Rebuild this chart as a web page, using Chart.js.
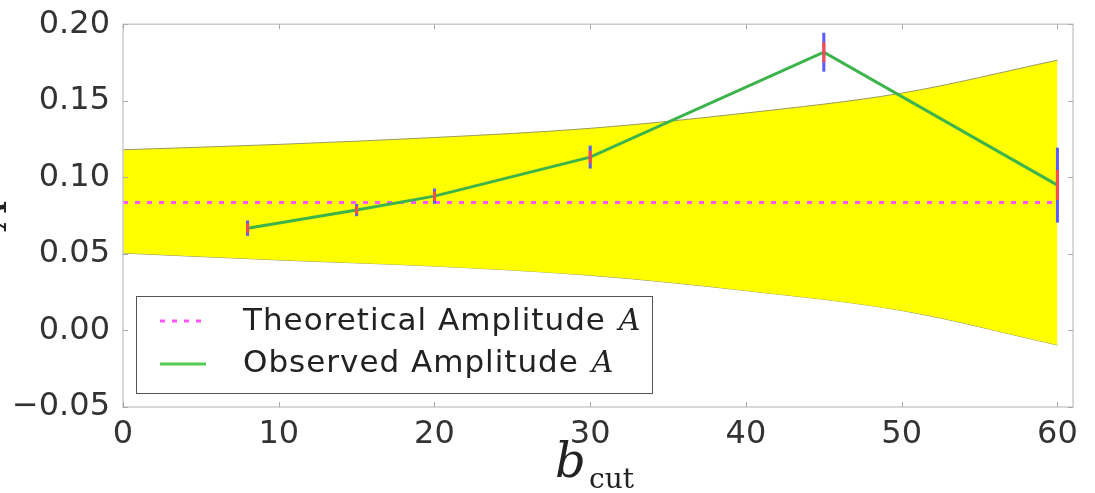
<!DOCTYPE html>
<html>
<head>
<meta charset="utf-8">
<script src="https://cdn.jsdelivr.net/npm/chart.js@4/dist/chart.umd.min.js"></script>
<style>
  html, body { margin: 0; padding: 0; background: #fff; overflow: hidden; }
  canvas { display: block; }
</style>
</head>
<body>
<canvas id="amp" width="1095" height="493" style="width:1095px;height:493px"></canvas>
<script>
// data
const bCut = [8, 15, 20, 30, 45, 60];
const observedA = [0.0668, 0.0786, 0.0877, 0.1132, 0.1817, 0.0949];
const errBlue = [0.005, 0.004, 0.005, 0.0075, 0.0127, 0.0245];
const errRed = [0.003, 0.0025, 0.003, 0.004, 0.0065, 0.0098];
const theoryX = [0, 60];
const theoryA = [0.0835, 0.0835];
const bandX = [0, 10, 20, 30, 40, 50, 60];
const bandUpper = [0.118, 0.1215, 0.126, 0.132, 0.142, 0.155, 0.1765];
const bandLower = [0.0505, 0.046, 0.042, 0.036, 0.026, 0.013, -0.0095];
const xTicks = [0, 10, 20, 30, 40, 50, 60];
const yTicks = [-0.05, 0, 0.05, 0.10, 0.15, 0.20];

const pts = (xs, ys) => xs.map((x, i) => ({ x: x, y: ys[i] }));
const tickFont = { family: "DejaVu Sans", size: 32 };

// frame, inward ticks, error bars, legend and axis titles
const extras = {
  id: "extras",
  afterDatasetsDraw(chart) {
    const c = chart.ctx, a = chart.chartArea;
    const xs = chart.scales.x, ys = chart.scales.y;
    c.save();
    // error bars
    const bar = (err, color) => {
      c.strokeStyle = color;
      c.lineWidth = 3;
      bCut.forEach((x, i) => {
        const px = xs.getPixelForValue(x);
        c.beginPath();
        c.moveTo(px, ys.getPixelForValue(observedA[i] - err[i]));
        c.lineTo(px, ys.getPixelForValue(observedA[i] + err[i]));
        c.stroke();
      });
    };
    bar(errBlue, "#5a5aff");
    bar(errRed, "#ff4a4a");
    // frame
    c.strokeStyle = "#c8cccc";
    c.lineWidth = 1.5;
    c.strokeRect(a.left, a.top, a.right - a.left, a.bottom - a.top);
    c.strokeStyle = "#aaaaaa";
    c.lineWidth = 1;
    xTicks.forEach(v => {
      const px = Math.round(xs.getPixelForValue(v)) + 0.5;
      c.beginPath();
      c.moveTo(px, a.bottom); c.lineTo(px, a.bottom - 5);
      c.moveTo(px, a.top); c.lineTo(px, a.top + 5);
      c.stroke();
    });
    yTicks.forEach(v => {
      const py = Math.round(ys.getPixelForValue(v)) + 0.5;
      c.beginPath();
      c.moveTo(a.left, py); c.lineTo(a.left + 5, py);
      c.moveTo(a.right, py); c.lineTo(a.right - 5, py);
      c.stroke();
    });
    // legend
    c.fillStyle = "#ffffff";
    c.fillRect(136, 296, 516, 97);
    c.strokeStyle = "#555";
    c.lineWidth = 1;
    c.strokeRect(136.5, 296.5, 516, 97);
    c.lineWidth = 3;
    c.strokeStyle = "#ff55ff";
    c.setLineDash([5, 7]);
    c.beginPath(); c.moveTo(160, 321); c.lineTo(206, 321); c.stroke();
    c.setLineDash([]);
    c.strokeStyle = "#55cc55";
    c.beginPath(); c.moveTo(160, 364); c.lineTo(206, 364); c.stroke();
    c.fillStyle = "#222";
    c.textBaseline = "middle";
    c.textAlign = "left";
    const entry = (txt, y) => {
      c.font = "31px 'DejaVu Sans'";
      c.letterSpacing = "1px";
      c.fillText(txt, 243, y);
      const w = c.measureText(txt).width;
      c.letterSpacing = "0px";
      c.font = "italic 30px 'DejaVu Serif'";
      c.fillText("A", 243 + w + 2, y);
    };
    entry("Theoretical Amplitude ", 322);
    entry("Observed Amplitude ", 364);
    // x title b_cut
    c.textBaseline = "alphabetic";
    c.font = "italic 48px 'DejaVu Serif'";
    c.fillText("b", 555, 477);
    c.font = "28px 'DejaVu Serif'";
    c.fillText("cut", 589, 488);
    // y title A, mostly outside the canvas
    c.translate(6, 214);
    c.rotate(-Math.PI / 2);
    c.textAlign = "center";
    c.font = "italic 40px 'DejaVu Serif'";
    c.fillText("A", 0, 0);
    c.restore();
  }
};

const ctx = document.getElementById("amp").getContext("2d");
const chart = new Chart(ctx, {
  type: "line",
  data: {
    datasets: [
      {
        label: "band upper",
        data: pts(bandX, bandUpper),
        borderColor: "#9a9a60",
        borderWidth: 1,
        backgroundColor: "#ffff00",
        fill: "+1",
        pointRadius: 0,
        cubicInterpolationMode: "monotone",
        order: 3
      },
      {
        label: "band lower",
        data: pts(bandX, bandLower),
        borderColor: "#9a9a60",
        borderWidth: 1,
        fill: false,
        pointRadius: 0,
        cubicInterpolationMode: "monotone",
        order: 3
      },
      {
        label: "Theoretical Amplitude A",
        data: pts(theoryX, theoryA),
        borderColor: "#ff55ff",
        borderWidth: 3,
        borderDash: [5, 7],
        fill: false,
        pointRadius: 0,
        order: 2
      },
      {
        label: "Observed Amplitude A",
        data: pts(bCut, observedA),
        borderColor: "#3cb44b",
        borderWidth: 3,
        fill: false,
        pointRadius: 0,
        tension: 0,
        order: 1
      }
    ]
  },
  options: {
    responsive: false,
    animation: false,
    layout: { padding: { top: 24, right: 22, left: 0, bottom: 0 } },
    plugins: { legend: { display: false }, tooltip: { enabled: false } },
    scales: {
      x: {
        type: "linear",
        min: 0,
        max: 61,
        grid: { display: false },
        border: { display: false },
        afterBuildTicks: s => { s.ticks = xTicks.map(v => ({ value: v })); },
        afterFit: s => { s.height = 86; },
        ticks: { font: tickFont, color: "#333", padding: 0, maxRotation: 0,
                 callback: v => String(v) }
      },
      y: {
        min: -0.05,
        max: 0.20,
        grid: { display: false },
        border: { display: false },
        afterBuildTicks: s => { s.ticks = yTicks.map(v => ({ value: v })); },
        afterFit: s => { s.width = 123; },
        ticks: { font: tickFont, color: "#333", padding: 5,
                 callback: v => v.toFixed(2).replace("-", "\u2212") }
      }
    }
  },
  plugins: [extras]
});
</script>
</body>
</html>
